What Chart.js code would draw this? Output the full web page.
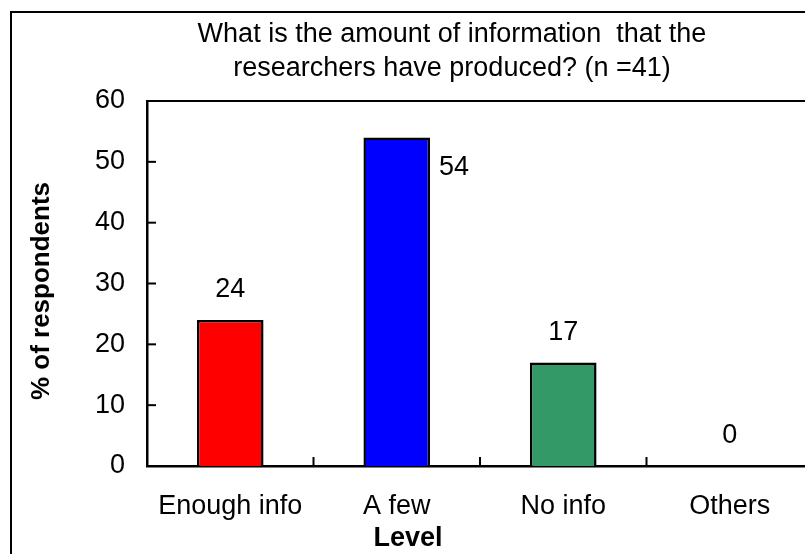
<!DOCTYPE html>
<html lang="en">
<head>
    <meta charset="UTF-8">
    <title>Amount of information</title>
    <script src="https://cdn.jsdelivr.net/npm/chart.js"></script>
    <style>
        html, body { margin: 0; padding: 0; background: #fff; overflow: hidden; }
        #wrap { width: 830px; height: 570px; }
    </style>
</head>
<body>
    <div id="wrap"><canvas id="infoChart"></canvas></div>

    <script>
        // data
        const levels = ['Enough info', 'A few', 'No info', 'Others'];
        const percents = [24, 54, 17, 0];
        const barColors = ['#ff0000', '#0000ff', '#339966', '#ffffff'];
        const yTicks = [0, 10, 20, 30, 40, 50, 60];
        const titleLines = ['What is the amount of information  that the', 'researchers have produced? (n =41)'];

        const FONT = '"Liberation Sans", Arial, sans-serif';

        // frame, titles, inward ticks and value labels
        const decorations = {
            id: 'decorations',
            afterDraw(chart) {
                const ctx = chart.ctx;
                const area = chart.chartArea;
                const x = chart.scales.x;
                const y = chart.scales.y;
                ctx.save();

                // outer frame
                ctx.strokeStyle = '#000';
                ctx.lineWidth = 2;
                ctx.strokeRect(11, 12, chart.width, chart.height);

                // plot area top and right lines
                ctx.beginPath();
                ctx.moveTo(area.left, area.top);
                ctx.lineTo(area.right, area.top);
                ctx.lineTo(area.right, area.bottom);
                ctx.stroke();

                // tick marks pointing inwards
                ctx.lineWidth = 2;
                yTicks.forEach(v => {
                    const py = y.getPixelForValue(v);
                    ctx.beginPath();
                    ctx.moveTo(area.left, py);
                    ctx.lineTo(area.left + 9, py);
                    ctx.stroke();
                });
                for (let i = 1; i < levels.length; i++) {
                    const px = (x.getPixelForValue(i - 1) + x.getPixelForValue(i)) / 2;
                    ctx.beginPath();
                    ctx.moveTo(px, area.bottom);
                    ctx.lineTo(px, area.bottom - 9);
                    ctx.stroke();
                }

                ctx.fillStyle = '#000';

                // title
                ctx.font = '27px ' + FONT;
                ctx.textAlign = 'center';
                ctx.textBaseline = 'middle';
                titleLines.forEach((t, i) => ctx.fillText(t, 452, 35 + i * 34));

                // axis titles
                ctx.font = 'bold 27px ' + FONT;
                ctx.fillText('Level', 408, 539);
                ctx.save();
                ctx.translate(42, 291);
                ctx.rotate(-Math.PI / 2);
                ctx.font = 'bold 26px ' + FONT;
                ctx.fillText('% of respondents', 0, 0);
                ctx.restore();

                // value labels
                ctx.font = '27px ' + FONT;
                const meta = chart.getDatasetMeta(0);
                const maxVal = Math.max(...percents);
                meta.data.forEach((bar, i) => {
                    const v = percents[i];
                    if (v === maxVal) {
                        ctx.textAlign = 'left';
                        ctx.fillText(String(v), bar.x + bar.width / 2 + 9, bar.y + 30);
                    } else {
                        ctx.textAlign = 'center';
                        ctx.fillText(String(v), bar.x, bar.y - 30);
                    }
                });

                ctx.restore();
            }
        };

        new Chart(document.getElementById('infoChart'), {
            type: 'bar',
            data: {
                labels: levels,
                datasets: [{
                    data: percents,
                    backgroundColor: barColors,
                    borderColor: '#000',
                    borderWidth: 2.5,
                    barPercentage: 0.4,
                    categoryPercentage: 1
                }]
            },
            options: {
                responsive: true,
                maintainAspectRatio: false,
                animation: false,
                layout: { padding: { left: 0, top: 101, right: 17, bottom: 0 } },
                plugins: {
                    legend: { display: false },
                    title: { display: false },
                    tooltip: { enabled: false }
                },
                scales: {
                    x: {
                        grid: { display: false, drawTicks: false },
                        border: { color: '#000', width: 2.5 },
                        ticks: { color: '#000', padding: 24, font: { family: FONT, size: 27 } },
                        afterFit(scale) { scale.height = 104; }
                    },
                    y: {
                        min: 0,
                        max: 60,
                        grid: { display: false, drawTicks: false },
                        border: { color: '#000', width: 2.5 },
                        ticks: { stepSize: 10, color: '#000', padding: 22, font: { family: FONT, size: 27 } },
                        afterFit(scale) { scale.width = 147; }
                    }
                }
            },
            plugins: [decorations]
        });
    </script>
</body>
</html>
